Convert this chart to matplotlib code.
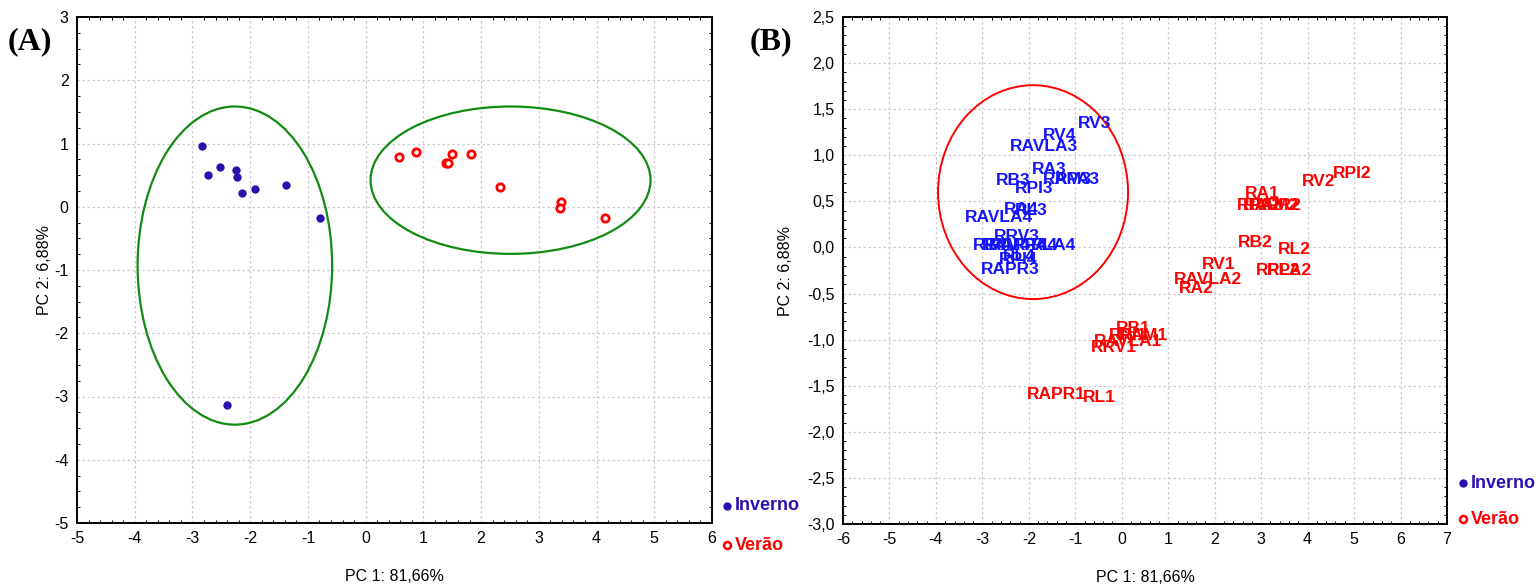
import matplotlib
matplotlib.use("Agg")
import matplotlib.pyplot as plt
from matplotlib.patches import Ellipse
from matplotlib.ticker import MultipleLocator, AutoMinorLocator, FuncFormatter

plt.rcParams['font.family'] = ['Liberation Sans', 'DejaVu Sans']
plt.rcParams['axes.unicode_minus'] = False

# ---------------- data ----------------
# Panel A: PCA scores
inv_x = [-2.84, -2.73, -2.52, -2.25, -2.22, -2.15, -1.92, -1.38, -0.79, -2.40]
inv_y = [0.96, 0.50, 0.63, 0.58, 0.47, 0.22, 0.28, 0.34, -0.18, -3.13]
ver_x = [0.58, 0.87, 1.49, 1.83, 1.39, 1.43, 2.32, 3.39, 3.36, 4.14]
ver_y = [0.79, 0.87, 0.84, 0.84, 0.69, 0.69, 0.32, 0.08, -0.02, -0.17]

# Panel B: labelled scores (Inverno = blue, Verão = red)
b_inv_labels = ["RV3", "RV4", "RAVLA3", "RA3", "RB3", "RPI3", "RAM3", "RPA3",
                "RAVLA4", "RA4", "RL3", "RRV3", "RB4", "RAM4", "RAPR4", "RPA4",
                "RLA4", "RPI4", "RL4", "RAPR3"]
b_inv_x = [-0.94, -1.70, -2.41, -1.93, -2.71, -2.31, -1.70, -1.45,
           -3.38, -2.53, -2.30, -2.75, -3.21, -3.02, -2.85, -2.35,
           -1.95, -2.65, -2.55, -3.04]
b_inv_y = [1.35, 1.21, 1.10, 0.85, 0.73, 0.64, 0.74, 0.74,
           0.33, 0.41, 0.40, 0.12, 0.02, 0.02, 0.02, 0.02,
           0.02, -0.13, -0.10, -0.24]
b_ver_labels = ["RPI2", "RV2", "RA1", "RPA2", "RAM2", "RAPR2", "RB2", "RL2",
                "RPL2", "RPA2", "RV1", "RAVLA2", "RA2", "RB1", "RPI1", "RAM1",
                "RAVLA1", "RRV1", "RAPR1", "RL1"]
b_ver_x = [4.54, 3.87, 2.64, 2.47, 2.75, 2.60, 2.49, 3.37,
           2.89, 3.12, 1.72, 1.12, 1.22, -0.12, -0.27, -0.07,
           -0.59, -0.67, -2.04, -0.83]
b_ver_y = [0.80, 0.72, 0.59, 0.46, 0.46, 0.46, 0.05, -0.02,
           -0.25, -0.25, -0.19, -0.35, -0.45, -0.88, -0.95, -0.95,
           -1.02, -1.09, -1.60, -1.63]

xlabel = "PC 1: 81,66%"
ylabel = "PC 2: 6,88%"

# ---------------- styles ----------------
C_INV = "#2b10b0"
C_VER = "#ff0000"
C_INV_TXT = "#1414ff"
C_ELL_A = "#138a13"

fig = plt.figure(figsize=(15.39, 5.87), dpi=100)
W, H = 1539, 587
axA = fig.add_axes([77 / W, 1 - 523 / H, (712 - 77) / W, (523 - 17) / H])
axB = fig.add_axes([843 / W, 1 - 524 / H, (1447 - 843) / W, (524 - 17) / H])

comma = FuncFormatter(lambda v, p: ("%.1f" % v).replace(".", ","))


def style(ax):
    ax.grid(True, which='major', color='#cccccc', linestyle=(0, (2, 2)), linewidth=0.9)
    ax.set_axisbelow(True)
    for s in ax.spines.values():
        s.set_linewidth(1.4)
        s.set_color('black')
    ax.tick_params(which='both', direction='in', top=True, right=True,
                   labelsize=11.5, colors='black', pad=6)
    ax.tick_params(which='major', length=0)
    ax.tick_params(which='minor', length=2.5, width=0.7)


# Panel A
axA.scatter(inv_x, inv_y, s=36, color=C_INV, zorder=3, linewidths=0)
axA.scatter(ver_x, ver_y, s=28, facecolors='white', edgecolors=C_VER, linewidths=2, zorder=3)
axA.add_patch(Ellipse((-2.265, -0.93), 3.37, 5.03, fill=False, edgecolor=C_ELL_A, linewidth=1.6))
axA.add_patch(Ellipse((2.51, 0.42), 4.85, 2.33, fill=False, edgecolor=C_ELL_A, linewidth=1.6))
axA.set_xlim(-5, 6)
axA.set_ylim(-5, 3)
axA.xaxis.set_major_locator(MultipleLocator(1))
axA.yaxis.set_major_locator(MultipleLocator(1))
axA.xaxis.set_minor_locator(AutoMinorLocator(5))
axA.yaxis.set_minor_locator(AutoMinorLocator(4))
style(axA)
axA.set_xlabel(xlabel, fontsize=11.5, labelpad=16)
axA.set_ylabel(ylabel, fontsize=11.5, labelpad=2)

# Panel B
for lab, x, y in zip(b_inv_labels, b_inv_x, b_inv_y):
    axB.text(x, y, lab, color=C_INV_TXT, fontsize=12.5, fontweight='bold',
             ha='left', va='center', zorder=3)
for lab, x, y in zip(b_ver_labels, b_ver_x, b_ver_y):
    axB.text(x, y, lab, color=C_VER, fontsize=12.5, fontweight='bold',
             ha='left', va='center', zorder=3)
axB.add_patch(Ellipse((-1.91, 0.60), 4.09, 2.32, fill=False, edgecolor=C_VER, linewidth=1.4))
axB.set_xlim(-6, 7)
axB.set_ylim(-3.0, 2.5)
axB.xaxis.set_major_locator(MultipleLocator(1))
axB.yaxis.set_major_locator(MultipleLocator(0.5))
axB.yaxis.set_major_formatter(comma)
axB.xaxis.set_minor_locator(AutoMinorLocator(5))
axB.yaxis.set_minor_locator(AutoMinorLocator(5))
style(axB)
axB.set_xlabel(xlabel, fontsize=11.5, labelpad=16)
axB.set_ylabel(ylabel, fontsize=11.5, labelpad=10)


def legend(ax, mx, y1, y2, tx):
    ax.plot([mx], [y1], marker='o', markersize=5, color=C_INV, transform=ax.transAxes,
            clip_on=False, linestyle='none')
    ax.text(tx, y1, "Inverno", color=C_INV, fontsize=13, fontweight='bold',
            transform=ax.transAxes, ha='left', va='center')
    ax.plot([mx], [y2], marker='o', markersize=5, markerfacecolor='white',
            markeredgecolor=C_VER, markeredgewidth=1.8, transform=ax.transAxes,
            clip_on=False, linestyle='none')
    ax.text(tx, y2, "Verão", color=C_VER, fontsize=13, fontweight='bold',
            transform=ax.transAxes, ha='left', va='center')


legend(axA, (727 - 77) / 635, (523 - 506) / 506, (523 - 545) / 506, (735 - 77) / 635)
legend(axB, (1463 - 843) / 604, (524 - 483) / 507, (524 - 519) / 507, (1471 - 843) / 604)

fig.text(8 / W, 1 - 42 / H, "(A)", fontsize=23, fontweight='bold',
         family=['Liberation Serif', 'DejaVu Serif'], ha='left', va='center')
fig.text(750 / W, 1 - 42 / H, "(B)", fontsize=23, fontweight='bold',
         family=['Liberation Serif', 'DejaVu Serif'], ha='left', va='center')

fig.savefig("out.png", dpi=100)
